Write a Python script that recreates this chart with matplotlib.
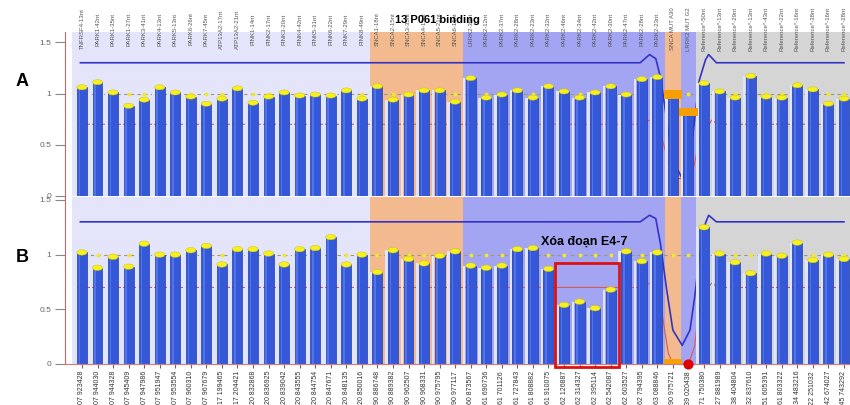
import matplotlib.pyplot as plt
from matplotlib.patches import Ellipse, Rectangle
from matplotlib.transforms import blended_transform_factory

plt.rcParams['font.family'] = ['Liberation Sans', 'DejaVu Sans']

# probe names (top of panel A) and chromosome positions (bottom of panel B)
probe_names = [
    "TNFRSF4-13nt", "PARK1-42nt", "PARK1-35nt", "PARK1-27nt", "PARK3-41nt",
    "PARK4-13nt", "PARK5-13nt", "PARK6-26nt", "PARK7-45nt", "ATP13A2-17nt",
    "ATP13A2-21nt", "PINK1-14nt", "PINK2-17nt", "PINK3-20nt", "PINK4-42nt",
    "PINK5-31nt", "PINK6-22nt", "PINK7-29nt", "PINK8-49nt", "SNCA1-18nt",
    "SNCA2-15nt", "SNCA3-35nt", "SNCA4-15nt", "SNCA5-21nt", "SNCA6-16nt",
    "LRRK2-36nt", "PARK2-12nt", "PARK2-37nt", "PARK2-28nt", "PARK2-23nt",
    "PARK2-32nt", "PARK2-46nt", "PARK2-34nt", "PARK2-42nt", "PARK2-30nt",
    "PARK2-47nt", "PARK2-28nt", "PARK2-23nt", "SNCA MUT A30", "LRRK2 MUT G2",
    "Reference*-50nt", "Reference*-13nt", "Reference*-29nt", "Reference*-13nt",
    "Reference*-43nt", "Reference*-22nt", "Reference*-16nt", "Reference*-38nt",
    "Reference*-16nt", "Reference*-28nt",
]
positions = [
    "01-007 923428", "01-007 944030", "01-007 944328", "01-007 945409",
    "01-007 947986", "01-007 951947", "01-007 953554", "01-007 960310",
    "01-007 967679", "01-017 199465", "01-017 204421", "01-020 832868",
    "01-020 836925", "01-020 839042", "01-020 843555", "01-020 844754",
    "01-020 847671", "01-020 848135", "01-020 850016", "04-090 886748",
    "04-090 889382", "04-090 962507", "04-090 968331", "04-090 975795",
    "04-090 977117", "06-160 873567", "06-161 690736", "06-161 701126",
    "06-161 727843", "06-161 808882", "06-161 910075", "06-162 126887",
    "06-162 314327", "06-162 395114", "06-162 542087", "06-162 603527",
    "06-162 794395", "06-163 088846", "04-090 975721", "12-039 020438",
    "05-071 750380", "05-227 881989", "03-038 404804", "05-132 837610",
    "05-051 605391", "05-061 803322", "03-034 483216", "02-022 251032",
    "02-042 674027", "11-045 743292",
]

ratio_a = [1.06, 1.11, 1.01, 0.88, 0.94, 1.06, 1.01, 0.97, 0.90, 0.95,
           1.05, 0.91, 0.97, 1.01, 0.98, 0.99, 0.98, 1.03, 0.95, 1.07,
           0.94, 0.99, 1.03, 1.03, 0.92, 1.15, 0.96, 0.99, 1.03, 0.96,
           1.07, 1.02, 0.96, 1.01, 1.07, 0.99, 1.14, 1.16, 0.99, 0.82,
           1.10, 1.02, 0.96, 1.17, 0.97, 0.96, 1.08, 1.04, 0.90, 0.95]
ratio_b = [1.02, 0.88, 0.98, 0.89, 1.10, 1.00, 1.00, 1.04, 1.08, 0.91,
           1.05, 1.05, 1.01, 0.91, 1.05, 1.06, 1.16, 0.91, 1.00, 0.84,
           1.04, 0.96, 0.92, 0.99, 1.03, 0.90, 0.88, 0.90, 1.05, 1.06,
           0.87, 0.54, 0.57, 0.51, 0.68, 1.03, 0.94, 1.02, 0.00, 0.00,
           1.25, 1.01, 0.93, 0.83, 1.01, 0.99, 1.11, 0.95, 1.00, 0.96]

cap_a = ["yellow"] * 38 + ["orange", "orange"] + ["yellow"] * 10
cap_b = ["yellow"] * 38 + ["orange", "red"] + ["yellow"] * 10

# background groups: boundaries in probe index units
group_bounds = [-0.64, 18.5, 24.5, 37.5, 38.5, 39.5, 49.6]
group_colors = ["#e4e4fa", "#f2ba8e", "#a3a5f3", "#f2ba8e", "#a3a5f3", "#d5d5d5"]

# upper (blue) and lower (red) limit curves
blue_a_x = [-0.1, 35.9, 36.5, 36.9, 37.2, 37.6, 38.0, 38.6, 39.1, 39.4, 39.7, 40.1, 40.3, 40.8, 49.0]
blue_a_y = [1.30, 1.30, 1.38, 1.34, 1.16, 0.75, 0.35, 0.17, 0.35, 0.75, 1.13, 1.33, 1.38, 1.30, 1.30]
red_a_x = [-0.3, 36.0, 36.5, 36.9, 37.2, 37.8, 38.3, 38.7, 39.3, 39.7, 40.5, 40.9, 49.3]
red_a_y = [0.70, 0.70, 0.74, 0.70, 0.62, 0.28, 0.17, 0.17, 0.25, 0.55, 0.74, 0.70, 0.70]

blue_b_x = [-0.1, 35.9, 36.5, 36.9, 37.2, 37.6, 38.0, 38.6, 39.1, 39.4, 39.7, 40.1, 40.3, 40.8, 49.0]
blue_b_y = [1.30, 1.30, 1.36, 1.33, 1.10, 0.68, 0.31, 0.17, 0.31, 0.61, 0.98, 1.29, 1.36, 1.30, 1.30]
red_b_x = [-0.3, 36.0, 36.4, 36.8, 37.3, 37.7, 38.0, 39.0, 39.4, 39.6, 40.0, 40.5, 40.9, 49.3]
red_b_y = [0.70, 0.70, 0.74, 0.70, 0.47, 0.10, 0.00, 0.00, 0.16, 0.43, 0.66, 0.74, 0.70, 0.70]


def draw_panel(ax, ratios, caps, bx, by, rx, ry, cap_h, ytop):
    n = len(ratios)
    xs = list(range(n))
    for k in range(len(group_colors)):
        ax.axvspan(group_bounds[k], group_bounds[k + 1], color=group_colors[k], lw=0, zorder=0)

    ax.plot([-0.3, n - 0.6], [1, 1], color="#9c9a6c", lw=0.8, dashes=(3, 3), zorder=1)
    ax.scatter(xs, [1] * n, s=8, color="#f0e830", lw=0, zorder=1.2)
    ax.plot(rx, ry, color="#d45a5a", lw=0.8, zorder=1.1)
    ax.plot(bx, by, color="#3434c4", lw=1.2, zorder=1.1)

    # cylinder look: light reflection left of bar, body, inner highlight
    ax.bar([x - 0.42 for x in xs], ratios, width=0.16, color="#dfe5ff", lw=0, zorder=1.6)
    ax.bar(xs, ratios, width=0.64, color="#3558d8", edgecolor="#2340aa", lw=0.5, zorder=2)
    ax.bar([x - 0.16 for x in xs], ratios, width=0.1, color="#5274ea", lw=0, zorder=2.1)

    for x, v, c in zip(xs, ratios, caps):
        if c == "yellow":
            ax.add_patch(Ellipse((x, v), 0.66, cap_h, facecolor="#f7f020",
                                 edgecolor="#c8c000", lw=0.3, zorder=3))
        elif c == "orange":
            ax.add_patch(Rectangle((x - 0.6, v - cap_h * 0.85), 1.2, cap_h * 1.7,
                                   facecolor="#f5a000", lw=0, zorder=3))
        else:
            ax.scatter([x], [v], s=40, color="#e00000", zorder=4, clip_on=False)

    ax.set_xlim(-1.09, 49.39)
    ax.set_ylim(0, ytop)
    ax.set_facecolor("white")
    ax.set_yticks([0, 0.5, 1, 1.5])
    ax.set_yticklabels(["0", "0.5", "1", "1.5"])
    ax.tick_params(axis="y", length=7, width=0.8, color="#888888", labelsize=6,
                   labelcolor="#666666", pad=3)
    for s in ["top", "right"]:
        ax.spines[s].set_visible(False)
    ax.spines["left"].set_color("#cc6666")


fig = plt.figure(figsize=(8.5, 4.05), dpi=100)
ax_a = fig.add_axes([65 / 850, 209 / 405, 785 / 850, 164 / 405])
ax_b = fig.add_axes([65 / 850, 41 / 405, 785 / 850, 167 / 405])

draw_panel(ax_a, ratio_a, cap_a, blue_a_x, blue_a_y, red_a_x, red_a_y, 0.05, 1.6)
draw_panel(ax_b, ratio_b, cap_b, blue_b_x, blue_b_y, red_b_x, red_b_y, 0.05, 1.527)

ax_a.spines["bottom"].set_visible(False)
ax_a.set_xticks([])
ax_b.spines["bottom"].set_color("#dd7777")
ax_b.set_xticks(range(len(positions)))
ax_b.set_xticklabels(positions, rotation=90, fontsize=5, color="#333333")
ax_b.tick_params(axis="x", length=3, color="#666666", pad=2)

# probe names above panel A
trans = blended_transform_factory(ax_a.transData, fig.transFigure)
for i, name in enumerate(probe_names):
    ax_a.text(i, 1 - 29 / 405, name, transform=trans, rotation=90, ha="center",
              va="center", fontsize=4.3, color="#555555", clip_on=False)

fig.text(437 / 850, 1 - 20 / 405, "13 P061 binding", ha="center", va="center",
         fontsize=8, fontweight="bold")
fig.text(22 / 850, 1 - 81 / 405, "A", ha="center", va="center", fontsize=13, fontweight="bold")
fig.text(22 / 850, 1 - 257 / 405, "B", ha="center", va="center", fontsize=13, fontweight="bold")

# deletion highlight
ax_b.add_patch(Rectangle((30.42, -0.03), 4.1, 0.95, fill=False, edgecolor="#e01010",
                         lw=2, zorder=6, clip_on=False))
ax_b.text(29.5, 1.115, "Xóa đoạn E4-7", fontsize=9, fontweight="bold", ha="left",
          va="center", zorder=6)

fig.savefig("out.png", dpi=100)
